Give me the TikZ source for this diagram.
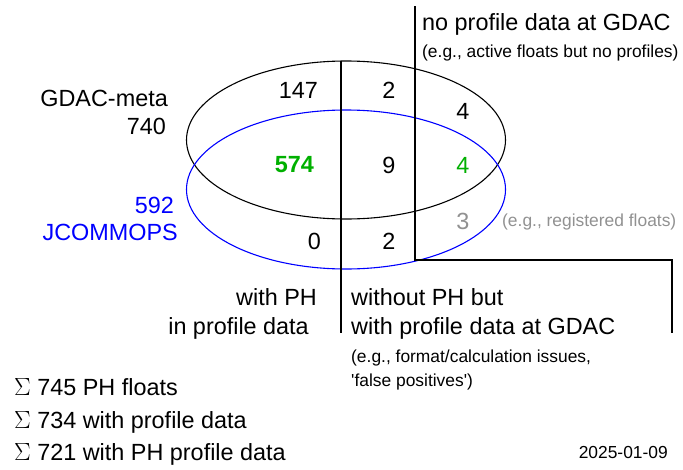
\documentclass[tikz,border=0pt]{standalone}
\usepackage{fontspec}
\setmainfont{Liberation Sans}
\definecolor{vgreen}{RGB}{0,176,0}
\definecolor{vgray}{RGB}{145,145,145}
\definecolor{vblue}{RGB}{0,0,255}
\begin{document}
\begin{tikzpicture}[x=1pt,y=-1pt,
  big/.style={inner sep=0pt,font=\fontsize{23.4}{27}\selectfont},
  small/.style={inner sep=0pt,font=\fontsize{17.4}{20}\selectfont},
  ln/.style={line width=1.1pt,black}]
\useasboundingbox (0,0) rectangle (683,469);
% ellipses
\draw[ln] (346,140) ellipse [x radius=159.5, y radius=79];
\draw[line width=1.1pt,vblue] (346,189.5) ellipse [x radius=159.5, y radius=79.5];
% dividing lines
\coordinate (l1top) at (341,61);
\coordinate (l1bot) at (341,333);
\draw[ln] (l1top) -- (l1bot);
\coordinate (l2top) at (415,6);
\coordinate (l2knee) at (415,260);
\coordinate (l2corner) at (672,260);
\coordinate (l2bot) at (672,333);
\draw[ln] (l2top) -- (l2knee) -- (l2corner) -- (l2bot);
% header
\node[big,anchor=base west] (nogdac) at (422,30) {no profile data at GDAC};
\node[small,anchor=base west] (nogdacex) at (422,57) {(e.g., active floats but no profiles)};
% left labels
\node[big,anchor=base east] (gm) at (168,106) {GDAC-meta};
\node[big,anchor=base east] (gmn) at (166,134) {740};
\node[big,anchor=base east,text=vblue] (jcn) at (174,213) {592};
\node[big,anchor=base east,text=vblue] (jc) at (178,240) {JCOMMOPS};
% counts
\node[big,anchor=east] (c147) at (318,90.5) {147};
\node[big] (c2a) at (389,90.5) {2};
\node[big] (c4a) at (463,111) {4};
\node[big,anchor=east,text=vgreen] (c574) at (314,165) {\bfseries 574};
\node[big] (c9) at (389,165) {9};
\node[big,text=vgreen] (c4b) at (463,165) {4};
\node[big,text=vgray] (c3) at (463,221.5) {3};
\node[small,anchor=west,text=vgray] (reg) at (502,222) {(e.g., registered floats)};
\node[big,anchor=east] (c0) at (321,241.5) {0};
\node[big] (c2b) at (389,241.5) {2};
% bottom labels
\node[big,anchor=base east] (wph1) at (317,305) {with PH};
\node[big,anchor=base east] (wph2) at (309,334) {in profile data};
\node[big,anchor=base west] (woph1) at (351,305) {without PH but};
\node[big,anchor=base west] (woph2) at (351,334) {with profile data at GDAC};
\node[small,anchor=base west] (fmt1) at (351,362) {(e.g., format/calculation issues,};
\node[small,anchor=base west] (fmt2) at (351,386) {\textquotesingle false positives\textquotesingle)};
% sums
\node[big,anchor=base west] (s1) at (14,395) {$\Sigma$ 745 PH floats};
\node[big,anchor=base west] (s2) at (14,428) {$\Sigma$ 734 with profile data};
\node[big,anchor=base west] (s3) at (14,460) {$\Sigma$ 721 with PH profile data};
\node[small,anchor=base east] (date) at (668,458) {2025-01-09};
\end{tikzpicture}
\end{document}
